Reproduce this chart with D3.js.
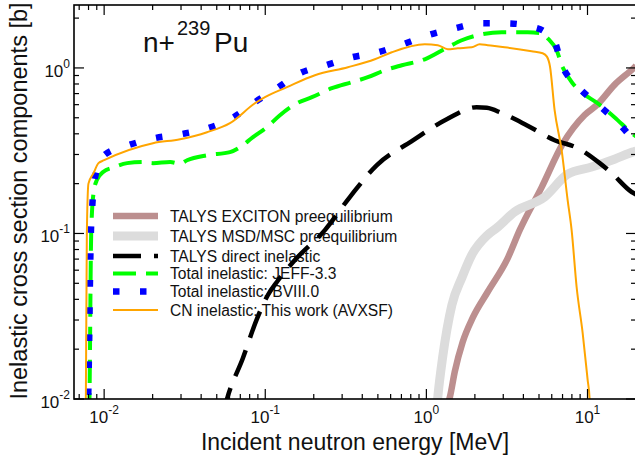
<!DOCTYPE html>
<html>
<head>
<meta charset="utf-8">
<script src="https://cdn.jsdelivr.net/npm/d3@7"></script>
<style>
  body { margin: 0; background: #fff; }
  svg { display: block; font-family: "Liberation Sans", Arial, Helvetica, sans-serif; }
</style>
</head>
<body>
<svg id="chart" width="635" height="456"></svg>
<script>
// ---- data: [energy MeV, cross section b] ----
const exciton = [[1.30,0.0085],[1.40,0.0103],[1.50,0.0146],[1.68,0.0221],[1.94,0.031],[2.40,0.0443],
  [3.20,0.071],[3.80,0.105],[5.19,0.19],[7.04,0.35],[9.6,0.52],[11.5,0.60],[14.7,0.79],[19.6,1.01],[20,1.03]];

const msdMsc = [[1.15,0.008],[1.18,0.0105],[1.26,0.0177],[1.44,0.037],[1.66,0.054],[1.91,0.074],[2.40,0.098],
  [2.73,0.108],[3.53,0.135],[5.42,0.166],[7.53,0.228],[10.6,0.252],[14.7,0.281],[19.0,0.31],[20,0.315]];

const direct = [[0.0545,0.008],[0.0579,0.01],[0.0727,0.0177],[0.0888,0.0305],[0.1039,0.0425],[0.118,0.0509],
  [0.1528,0.0691],[0.2345,0.1048],[0.335,0.166],[0.493,0.259],[0.812,0.361],[1.338,0.49],[2.05,0.579],
  [2.37,0.575],[2.94,0.533],[4.19,0.451],[6.25,0.366],[8.68,0.328],[11.9,0.266],[14.1,0.232],[18.8,0.178],[20,0.172]];

const jeff33 = [[0.0080,0.005],[0.00811,0.01],[0.00831,0.1],[0.00859,0.175],[0.00901,0.21],[0.0099,0.236],
  [0.01137,0.25],[0.01389,0.266],[0.01745,0.27],[0.0201,0.266],[0.0257,0.27],[0.0296,0.264],[0.0327,0.277],
  [0.0435,0.297],[0.0604,0.31],[0.0697,0.332],[0.0839,0.382],[0.1024,0.439],[0.1233,0.518],[0.1572,0.612],
  [0.1948,0.666],[0.259,0.754],[0.345,0.82],[0.433,0.879],[0.552,0.968],[0.704,1.038],[0.977,1.128],
  [1.358,1.333],[1.658,1.47],[2.21,1.597],[2.94,1.643],[4.25,1.643],[5.19,1.62],[5.66,1.511],[6.43,1.279],
  [7.01,1.01],[8.08,0.809],[9.19,0.713],[11.55,0.612],[14.7,0.504],[18.8,0.404],[20,0.385]];

const bviii0 = [[0.0078,0.005],[0.00796,0.01],[0.00827,0.1],[0.00843,0.144],[0.00871,0.21],[0.01,0.297],
  [0.0141,0.341],[0.0204,0.376],[0.030,0.398],[0.0441,0.433],[0.0622,0.497],[0.0863,0.621],[0.118,0.754],
  [0.164,0.929],[0.238,1.038],[0.345,1.16],[0.50,1.244],[0.714,1.39],[1.02,1.575],[1.50,1.736],[2.175,1.86],
  [3.15,1.86],[4.63,1.76],[5.3,1.68],[6.17,1.49],[6.91,1.053],[8.68,0.775],[11.55,0.604],[15.37,0.47],
  [19.6,0.366],[20,0.36]];

const cnAvxsf = [[0.0076,0.005],[0.0077,0.01],[0.00781,0.1],[0.00799,0.2],[0.00859,0.2315],[0.00922,0.266],
  [0.01,0.277],[0.0201,0.351],[0.0296,0.371],[0.0435,0.409],[0.0604,0.464],[0.0863,0.612],[0.0996,0.666],
  [0.1363,0.765],[0.2033,0.903],[0.3257,1.01],[0.4787,1.128],[0.61,1.244],[0.977,1.39],[1.177,1.371],
  [1.358,1.297],[1.565,1.315],[1.912,1.333],[2.144,1.39],[2.403,1.371],[3.063,1.333],[4.50,1.261],
  [5.27,1.227],[5.6,1.17],[5.85,1.02],[6.25,0.556],[6.91,0.3186],[7.53,0.159],[7.97,0.1048],[8.56,0.0475],
  [9.33,0.0251],[10.02,0.01304],[10.3,0.0101],[10.4,0.008]];

const legendLabels = ["TALYS EXCITON preequilibrium", "TALYS MSD/MSC preequilibrium", "TALYS direct inelastic",
  "Total inelastic: JEFF-3.3", "Total inelastic: BVIII.0", "CN inelastic: This work (AVXSF)"];

const xDecades = [-2, -1, 0, 1];
const yDecades = [-2, -1, 0];

// ---- layout ----
const svg = d3.select("#chart");
const plot = {left: 74, right: 636, top: 5, bottom: 399};

const x = d3.scaleLog().domain([0.0065, 20]).range([plot.left, plot.right]);
const y = d3.scaleLog().domain([0.01, 2.4]).range([plot.bottom, plot.top]);

const series = [
  {data: exciton, color: "#bc8f8f", width: 6.5, dash: null},
  {data: msdMsc, color: "#dcdcdc", width: 9, dash: null},
  {data: direct, color: "#000000", width: 4.5, dash: "28,13"},
  {data: jeff33, color: "#00ff00", width: 4, dash: "23,10"},
  {data: bviii0, color: "#0000ff", width: 6.5, dash: "6.5,20.5"},
  {data: cnAvxsf, color: "#ffa500", width: 2, dash: null}
];

svg.append("defs").append("clipPath").attr("id", "clip")
  .append("rect")
  .attr("x", plot.left).attr("y", plot.top)
  .attr("width", plot.right - plot.left).attr("height", plot.bottom - plot.top);

// legend (curves cross over it)
const legend = svg.append("g");
const legendY = [216, 236, 256, 273.5, 291.5, 310];
legendLabels.forEach(function (label, i) {
  const s = series[i];
  legend.append("line")
    .attr("x1", 113).attr("x2", 158)
    .attr("y1", legendY[i]).attr("y2", legendY[i])
    .attr("stroke", s.color)
    .attr("stroke-width", s.width)
    .attr("stroke-dasharray", s.dash);
  legend.append("text")
    .attr("x", 170).attr("y", legendY[i] + 5.6)
    .attr("font-size", "15.6px")
    .attr("fill", "#111")
    .text(label);
});

// curves
const line = d3.line()
  .x(d => x(d[0]))
  .y(d => y(d[1]))
  .curve(d3.curveMonotoneX);

svg.append("g").attr("clip-path", "url(#clip)")
  .selectAll("path")
  .data(series)
  .enter()
  .append("path")
  .attr("d", d => line(d.data))
  .attr("fill", "none")
  .attr("stroke", d => d.color)
  .attr("stroke-width", d => d.width)
  .attr("stroke-dasharray", d => d.dash)
  .attr("stroke-linejoin", "round");

// frame
svg.append("rect")
  .attr("x", plot.left).attr("y", plot.top)
  .attr("width", plot.right - plot.left).attr("height", plot.bottom - plot.top)
  .attr("fill", "none").attr("stroke", "#000").attr("stroke-width", 1.6);

// ticks (all inward)
function tickValues(scale) {
  const dom = scale.domain();
  const out = [];
  for (let e = -3; e <= 1; e++) {
    for (let m = 1; m <= 9; m++) {
      const v = m * Math.pow(10, e);
      if (v >= dom[0] * 0.999 && v <= dom[1] * 1.001) out.push({v: v, major: m === 1});
    }
  }
  return out;
}

const ticks = svg.append("g").attr("stroke", "#000").attr("stroke-width", 1.2);
tickValues(x).forEach(function (t) {
  const len = t.major ? 10 : 5;
  const px = x(t.v);
  ticks.append("line").attr("x1", px).attr("x2", px).attr("y1", plot.bottom).attr("y2", plot.bottom - len);
  ticks.append("line").attr("x1", px).attr("x2", px).attr("y1", plot.top).attr("y2", plot.top + len);
});
tickValues(y).forEach(function (t) {
  const len = t.major ? 10 : 5;
  const py = y(t.v);
  ticks.append("line").attr("y1", py).attr("y2", py).attr("x1", plot.left).attr("x2", plot.left + len);
  ticks.append("line").attr("y1", py).attr("y2", py).attr("x1", plot.right).attr("x2", plot.right - len);
});

// tick labels
xDecades.forEach(function (e) {
  const t = svg.append("text")
    .attr("x", x(Math.pow(10, e))).attr("y", 423)
    .attr("text-anchor", "middle")
    .attr("font-size", "17px").attr("fill", "#111");
  t.append("tspan").text("10");
  t.append("tspan").attr("font-size", "12px").attr("dy", -9).text(e);
});
yDecades.forEach(function (e) {
  const t = svg.append("text")
    .attr("x", 70).attr("y", y(Math.pow(10, e)) + 9)
    .attr("text-anchor", "end")
    .attr("font-size", "17px").attr("fill", "#111");
  t.append("tspan").text("10");
  t.append("tspan").attr("font-size", "12px").attr("dy", -9).text(e);
});

// axis titles
svg.append("text")
  .attr("x", (plot.left + plot.right) / 2).attr("y", 450)
  .attr("text-anchor", "middle")
  .attr("font-size", "23px").attr("fill", "#111")
  .text("Incident neutron energy [MeV]");

svg.append("text")
  .attr("transform", "translate(27," + 201 + ") rotate(-90)")
  .attr("text-anchor", "middle")
  .attr("font-size", "23.5px").attr("fill", "#111")
  .text("Inelastic cross section components [b]");

// title n+239Pu
const title = svg.append("text")
  .attr("x", 143).attr("y", 52)
  .attr("font-size", "28px").attr("fill", "#111");
title.append("tspan").text("n+");
title.append("tspan").attr("x", 177).attr("dy", -17).attr("font-size", "20px").text("239");
title.append("tspan").attr("x", 214).attr("dy", 17).text("Pu");
</script>
</body>
</html>
